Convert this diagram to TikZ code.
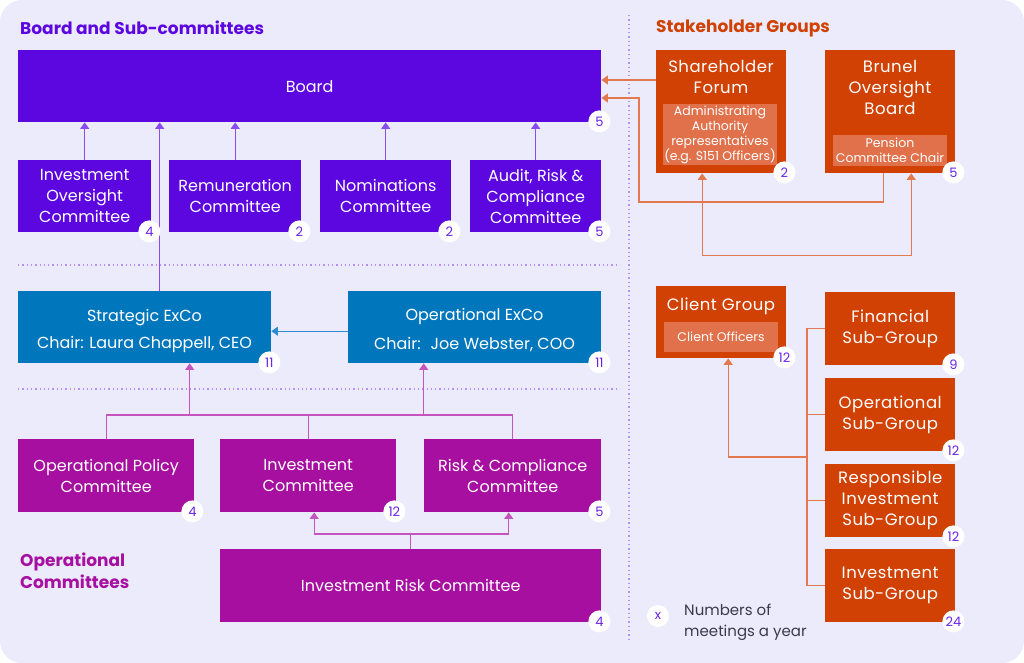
\documentclass[tikz,border=0pt]{standalone}
\usepackage{fontspec}
\setmainfont{Poppins}
\newfontfamily\widefont[LetterSpace=3]{Poppins}
\usetikzlibrary{arrows.meta,positioning}

\definecolor{bgcol}{HTML}{EBEBFC}
\definecolor{boardcol}{HTML}{5C07E0}
\definecolor{execcol}{HTML}{0077BD}
\definecolor{opcol}{HTML}{A70FA0}
\definecolor{stakecol}{HTML}{D04103}
\definecolor{innercol}{HTML}{E0714B}
\definecolor{badgecol}{HTML}{6A22E8}
\definecolor{purpleline}{HTML}{8A4CF0}
\definecolor{blueline}{HTML}{2E8BD0}
\definecolor{magline}{HTML}{C454BE}
\definecolor{orgline}{HTML}{E4784F}
\definecolor{dividercol}{HTML}{B592F2}
\definecolor{keycol}{HTML}{3A3A4A}

\newcommand{\meetings}[2]{\node[badge] (#1n) at ([xshift=-2pt,yshift=1pt]#1.south east) {#2};}

\begin{document}
\begin{tikzpicture}[
    x=1pt, y=-1pt,
    block/.style={rectangle, anchor=north west, inner sep=0pt, text=white, align=center, font=\fontsize{16}{21}\selectfont},
    boardblock/.style={block, fill=boardcol},
    execblock/.style={block, fill=execcol},
    opblock/.style={block, fill=opcol},
    stakeblock/.style={block, fill=stakecol, font=\widefont\fontsize{16.5}{21}\selectfont},
    innerblock/.style={rectangle, fill=innercol, inner sep=0pt, text=white, align=center, font=\fontsize{12.5}{15}\selectfont},
    stext/.style={text=white, align=center, inner sep=0pt, font=\widefont\fontsize{16.5}{21}\selectfont},
    etext/.style={text=white, align=center, inner sep=0pt, font=\fontsize{16}{21}\selectfont},
    heading/.style={anchor=west, inner sep=0pt, align=left, font=\fontsize{17}{22}\selectfont\bfseries},
    badge/.style={circle, fill=white, minimum size=22pt, inner sep=0pt, text=badgecol, font=\fontsize{13}{13}\selectfont},
    divider/.style={dividercol, line width=1.3pt, dash pattern=on 1.3pt off 3pt},
    arrow/.style={line width=1.2pt, -{Triangle[width=9pt,length=6.5pt]}},
    link/.style={line width=1.2pt}
]

% Background panel
\useasboundingbox (0,0) rectangle (1024,663);
\fill[bgcol, rounded corners=22pt] (0,0) rectangle (1024,663);

% Dividers
\draw[divider] (18,265) -- (620,265);
\draw[divider] (18,389) -- (620,389);
\draw[divider] (629,15) -- (629,640);

% Headings
\node[heading, text=boardcol] (boardttl) at (20,28) {Board and Sub-committees};
\node[heading, text=stakecol] (stakettl) at (656,28) {Stakeholder Groups};
\node[heading, text=opcol] (opttl) at (20,571) {Operational\\Committees};

% Board and sub-committees
\node[boardblock, minimum width=583pt, minimum height=72pt] (board) at (18,50) {Board};
\node[boardblock, minimum width=133pt, minimum height=72pt] (ioc) at (18,160) {Investment\\Oversight\\Committee};
\node[boardblock, minimum width=132pt, minimum height=72pt] (remco) at (169,160) {Remuneration\\Committee};
\node[boardblock, minimum width=131pt, minimum height=72pt] (nomco) at (320,160) {Nominations\\Committee};
\node[boardblock, minimum width=131pt, minimum height=72pt] (arcc) at (470,160) {Audit, Risk \&\\Compliance\\Committee};

% Executive committees
\node[execblock, minimum width=253pt, minimum height=72pt] (sexco) at (18,291) {};
\node[etext] (sexcotxt) at (144.5,330.5) {Strategic ExCo\\[6pt]Chair: Laura Chappell, CEO};
\node[execblock, minimum width=253pt, minimum height=72pt] (oexco) at (348,291) {};
\node[etext] (oexcotxt) at (474.5,330.5) {Operational ExCo\\[8pt]Chair: \ Joe Webster, COO};

% Operational committees
\node[opblock, minimum width=176pt, minimum height=73pt] (opc) at (18,439) {Operational Policy\\Committee};
\node[opblock, minimum width=176pt, minimum height=73pt] (invc) at (220,439) {Investment\\Committee};
\node[opblock, minimum width=177pt, minimum height=73pt] (rcc) at (424,439) {Risk \& Compliance\\Committee};
\node[opblock, minimum width=381pt, minimum height=73pt] (irc) at (220,549) {Investment Risk Committee};

% Stakeholder groups
\node[stakeblock, minimum width=130pt, minimum height=123pt] (shf) at (656,50) {};
\node[stext] (shftxt) at (721,76.5) {Shareholder\\Forum};
\node[innerblock, minimum width=114pt, minimum height=61pt] (shfin) at (720,134.5) {Administrating\\Authority\\representatives\\(e.g. S151 Officers)};
\node[stakeblock, minimum width=130pt, minimum height=123pt] (bob) at (825,50) {};
\node[stext] (bobtxt) at (890,87.5) {Brunel\\Oversight\\Board};
\node[innerblock, minimum width=114pt, minimum height=31pt] (bobin) at (890,150.5) {Pension\\Committee Chair};

% Client group and sub-groups
\node[stakeblock, minimum width=130pt, minimum height=72pt] (clg) at (656,286) {};
\node[stext] (clgtxt) at (721,306) {Client Group};
\node[innerblock, minimum width=114pt, minimum height=30pt] (clgin) at (721,337) {Client Officers};
\node[stakeblock, minimum width=130pt, minimum height=73pt] (fsg) at (825,292) {Financial\\Sub-Group};
\node[stakeblock, minimum width=130pt, minimum height=73pt] (osg) at (825,378) {Operational\\Sub-Group};
\node[stakeblock, minimum width=130pt, minimum height=73pt] (risg) at (825,464) {Responsible\\Investment\\Sub-Group};
\node[stakeblock, minimum width=130pt, minimum height=73pt] (isg) at (825,549) {Investment\\Sub-Group};

% Arrows into the Board
\foreach \c in {ioc,remco,nomco,arcc}
    \draw[arrow, purpleline] (\c.north) -- (\c.north |- board.south);
\draw[arrow, purpleline] ([xshift=15pt]sexco.north) -- ([xshift=15pt]sexco.north |- board.south);
\draw[arrow, blueline] ([yshift=-4pt]oexco.west) -- ([yshift=-4pt]sexco.east);

% Operational committees up to the ExCos
\coordinate (optree) at (0,415);
\draw[link, magline] (opc.north) -- (opc.north |- optree) -- (rcc.north |- optree) -- (rcc.north);
\draw[link, magline] (invc.north) -- (invc.north |- optree);
\draw[arrow, magline] ([xshift=45pt]sexco.south |- optree) -- ([xshift=45pt]sexco.south);
\draw[arrow, magline] ([xshift=-51pt]oexco.south |- optree) -- ([xshift=-51pt]oexco.south);

% Investment Risk Committee
\coordinate (irctree) at (0,534);
\draw[link, magline] (irc.north) -- (irc.north |- irctree);
\draw[arrow, magline] (irc.north |- irctree) -| ([xshift=6pt]invc.south);
\draw[arrow, magline] (irc.north |- irctree) -| ([xshift=-4pt]rcc.south);

% Stakeholder links
\coordinate (bobloop) at (639,202);
\draw[arrow, orgline] ([yshift=-30pt]shf.north west) -- ([yshift=-30pt]shf.north west -| board.east);
\draw[arrow, orgline] ([xshift=-7pt]bob.south) |- (bobloop) |- ([yshift=-48pt]board.north east);
\draw[link, orgline, {Triangle[width=9pt,length=6.5pt]}-{Triangle[width=9pt,length=6.5pt]}] ([xshift=-19pt]shf.south) -- ++(0,82) -| ([xshift=21pt]bob.south);

% Sub-groups up to the Client Group
\coordinate (sgspine) at (807,457);
\draw[link, orgline] (fsg.west) -- (fsg.west -| sgspine) -- (isg.west -| sgspine) -- (isg.west);
\draw[link, orgline] (osg.west) -- (osg.west -| sgspine);
\draw[link, orgline] (risg.west) -- (risg.west -| sgspine);
\draw[arrow, orgline] (sgspine) -| ([xshift=7pt]clg.south);

% Meeting counts
\meetings{board}{5}
\meetings{ioc}{4}
\meetings{remco}{2}
\meetings{nomco}{2}
\meetings{arcc}{5}
\meetings{sexco}{11}
\meetings{oexco}{11}
\meetings{opc}{4}
\meetings{invc}{12}
\meetings{rcc}{5}
\meetings{irc}{4}
\meetings{shf}{2}
\meetings{bob}{5}
\meetings{clg}{12}
\meetings{fsg}{9}
\meetings{osg}{12}
\meetings{risg}{12}
\meetings{isg}{24}

% Key
\node[badge] (key) at (658,616) {x};
\node[anchor=west, inner sep=0pt, align=left, text=keycol, font=\fontsize{15}{21}\selectfont] (keytxt) at (684,622) {Numbers of\\meetings a year};

\end{tikzpicture}
\end{document}
